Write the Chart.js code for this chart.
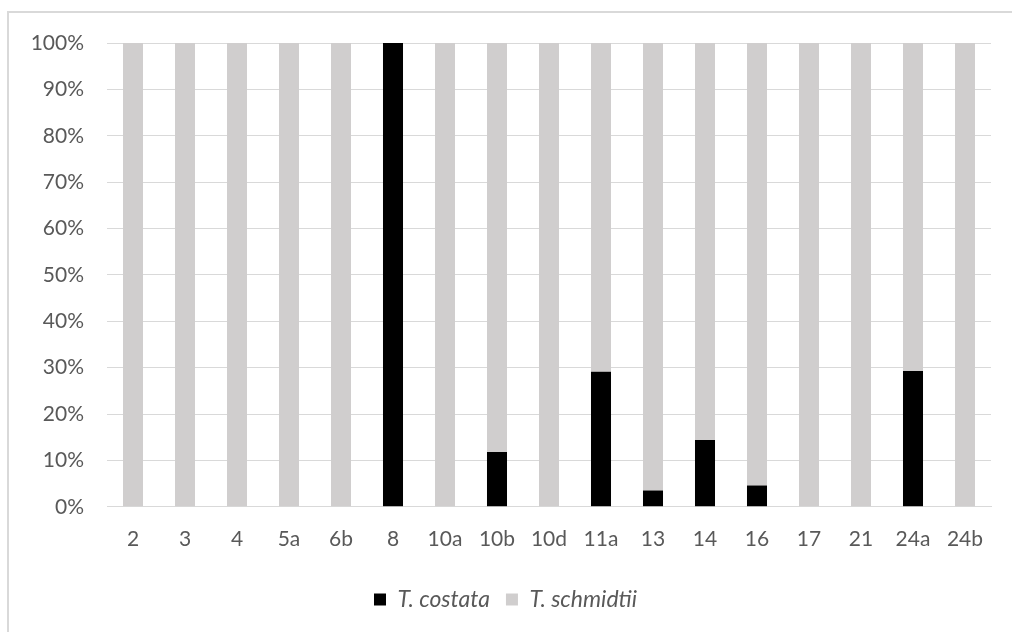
<!DOCTYPE html>
<html>
<head>
<meta charset="utf-8">
<script src="https://cdn.jsdelivr.net/npm/chart.js@4/dist/chart.umd.min.js"></script>
<style>
  html, body { margin: 0; padding: 0; background: #fff; overflow: hidden; }
  #frame { position: absolute; left: 7px; top: 11px; width: 1020px; height: 640px; border: 2px solid #d9d9d9; box-sizing: border-box; }
  #wrap { position: absolute; left: 0; top: 0; width: 1012px; height: 632px; }
</style>
</head>
<body>
<div id="frame"></div>
<div id="wrap"><canvas id="c" width="1012" height="632"></canvas></div>
<script>
const categories = ["2","3","4","5a","6b","8","10a","10b","10d","11a","13","14","16","17","21","24a","24b"];
const costata  = [0,0,0,0,0,100,0,11.8,0,29.1,3.5,14.4,4.6,0,0,29.3,0];
const schmidtii = costata.map(v => 100 - v);
const yTicks = [0,10,20,30,40,50,60,70,80,90,100];

const txt = '#595959';
const fam = 'Lato, "Liberation Sans", sans-serif';

new Chart(document.getElementById('c'), {
  type: 'bar',
  data: {
    labels: categories,
    datasets: [
      { label: 'T. costata', data: costata, backgroundColor: '#000000', borderWidth: 0 },
      { label: 'T. schmidtii', data: schmidtii, backgroundColor: '#d0cece', borderWidth: 0 }
    ]
  },
  options: {
    responsive: false,
    animation: false,
    layout: { padding: { left: 20, right: 21, top: 43, bottom: 11 } },
    datasets: { bar: { categoryPercentage: 1.0, barPercentage: 0.385 } },
    plugins: {
      tooltip: { enabled: false },
      legend: {
        position: 'bottom',
        labels: {
          boxWidth: 12, boxHeight: 12, padding: 16,
          color: txt,
          font: { family: fam, size: 23, style: 'italic' }
        }
      }
    },
    scales: {
      x: {
        stacked: true,
        grid: { display: false, drawTicks: false },
        border: { display: true, color: '#d9d9d9', width: 1 },
        ticks: { color: txt, font: { family: fam, size: 21 }, padding: 20, maxRotation: 0 }
      },
      y: {
        stacked: true,
        min: 0, max: 100,
        afterBuildTicks: (s) => { s.ticks = yTicks.map(v => ({ value: v })); },
        afterFit: (s) => { s.width = 87; },
        grid: { color: '#d9d9d9', lineWidth: 1, drawTicks: false },
        border: { display: false },
        ticks: { color: txt, font: { family: fam, size: 21 }, padding: 23, callback: v => v + '%' }
      }
    }
  }
});
</script>
</body>
</html>
